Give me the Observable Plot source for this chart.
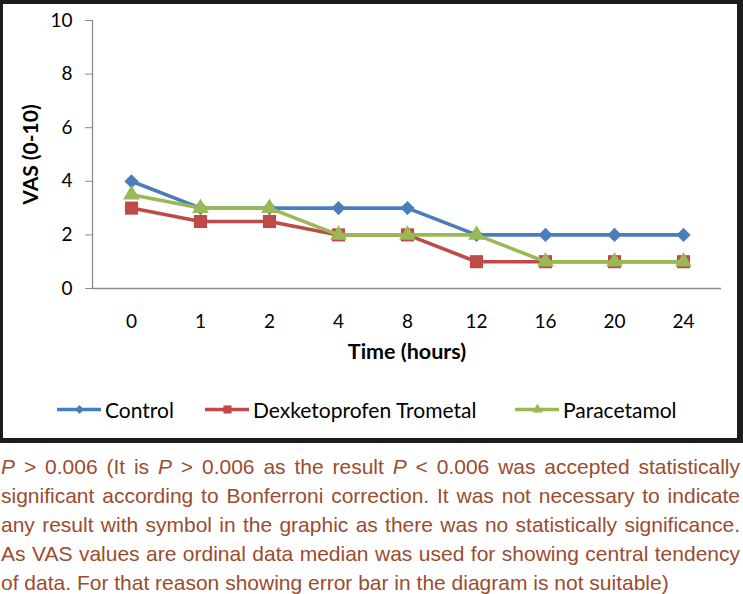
<!DOCTYPE html>
<html>
<head>
<meta charset="utf-8">
<script src="https://cdn.jsdelivr.net/npm/d3@7"></script>
<script src="https://cdn.jsdelivr.net/npm/@observablehq/plot@0.6"></script>
<style>
  body { margin: 0; background: #fff; }
  #wrap { position: relative; width: 743px; height: 594px; overflow: hidden; }
  #box { position: absolute; left: 0; top: 0; width: 743px; height: 443px; box-sizing: border-box;
         border-style: solid; border-color: #1c1c1c; border-width: 4px 6px 5px 3px; }
  #chart { position: absolute; left: 0; top: 0; }
  .leg { position: absolute; top: 396px; height: 26px; display: flex; align-items: center;
         font-family: Lato, "Open Sans", sans-serif; font-size: 21px; color: #000; }
  .leg svg { margin-right: 4px; }
  #caption { position: absolute; left: 1px; top: 452px; width: 739px; color: #9b4c2e;
             font-family: "Liberation Sans", Arial, sans-serif; font-size: 21px; line-height: 29px; }
  #caption div { text-align: justify; text-align-last: justify; white-space: nowrap; }
  #caption div.last { text-align-last: left; }
</style>
</head>
<body>
<div id="wrap">
  <div id="chart"></div>
  <div id="box"></div>
  <div id="legend"></div>
  <div id="caption"></div>
</div>
<script>
const times = ["0", "1", "2", "4", "8", "12", "16", "20", "24"];
const control = [4, 3, 3, 3, 3, 2, 2, 2, 2];
const dexketoprofen = [3, 2.5, 2.5, 2, 2, 1, 1, 1, 1];
const paracetamol = [3.5, 3, 3, 2, 2, 2, 1, 1, 1];
const seriesNames = ["Control", "Dexketoprofen Trometal", "Paracetamol"];
const seriesColors = ["#4a7ebb", "#be4b48", "#98b954"];
const seriesSymbols = ["diamond2", "square", "triangle"];
const seriesR = [6.4, 7.4, 6.2];
const yTicks = [0, 2, 4, 6, 8, 10];
const xLabel = "Time (hours)";
const yLabel = "VAS (0-10)";
const captionLines = [
  "<i>P</i> &gt; 0.006 (It is <i>P</i> &gt; 0.006 as the result <i>P</i> &lt; 0.006 was accepted statistically",
  "significant according to Bonferroni correction. It was not necessary to indicate",
  "any result with symbol in the graphic as there was no statistically significance.",
  "As VAS values are ordinal data median was used for showing central tendency",
  "of data. For that reason showing error bar in the diagram is not suitable)"
];

const seriesValues = [control, dexketoprofen, paracetamol];
const rows = [];
seriesNames.forEach((name, si) => {
  times.forEach((t, i) => rows.push({series: name, time: t, value: seriesValues[si][i]}));
});

const marks = [
  Plot.ruleY([0], {stroke: "#8c8c8c", strokeWidth: 1.3}),
  Plot.frame({anchor: "left", stroke: "#8c8c8c", strokeWidth: 1.3}),
  Plot.axisY({ticks: yTicks, tickSize: 7, tickPadding: 13, label: null, stroke: "#8c8c8c", fill: "#000", fontSize: 19}),
  Plot.axisX({tickSize: 0, tickPadding: 26, label: null, fill: "#000", fontSize: 19}),
  Plot.text([xLabel], {frameAnchor: "bottom", dy: 64, lineAnchor: "middle", textAnchor: "middle",
                       fontWeight: "bold", fontSize: 21.5, fill: "#000"}),
  Plot.text([yLabel], {frameAnchor: "left", dx: -61, rotate: -90, textAnchor: "middle", lineAnchor: "middle",
                       fontWeight: "bold", fontSize: 21, fill: "#000"})
];
seriesNames.forEach((name, si) => {
  const d = rows.filter(r => r.series === name);
  marks.push(Plot.line(d, {x: "time", y: "value", stroke: seriesColors[si], strokeWidth: 3.6}));
  marks.push(Plot.dot(d, {x: "time", y: "value", symbol: seriesSymbols[si], r: seriesR[si],
                          fill: seriesColors[si], stroke: "none"}));
});

const chart = Plot.plot({
  width: 743,
  height: 380,
  marginLeft: 92,
  marginRight: 22,
  marginTop: 20,
  marginBottom: 92,
  style: {fontFamily: "Lato, 'Open Sans', sans-serif", fontSize: "19px", color: "#000", background: "transparent", overflow: "visible"},
  x: {type: "point", domain: times, padding: 0.5},
  y: {domain: [0, 10]},
  marks
});
document.getElementById("chart").appendChild(chart);

// legend
const legendLefts = [57, 205, 515];
const legend = document.getElementById("legend");
seriesNames.forEach((name, si) => {
  const item = document.createElement("div");
  item.className = "leg";
  item.style.left = legendLefts[si] + "px";
  const sw = Plot.plot({
    width: 44, height: 20, margin: 0,
    x: {domain: [0, 1], axis: null}, y: {domain: [0, 1], axis: null},
    style: {background: "transparent", overflow: "visible"},
    marks: [
      Plot.ruleY([0.5], {stroke: seriesColors[si], strokeWidth: 3.6}),
      Plot.dot([0.5], {x: d => d, y: 0.5, symbol: seriesSymbols[si], r: seriesR[si] * 0.62,
                       fill: seriesColors[si], stroke: "none"})
    ]
  });
  item.appendChild(sw);
  const span = document.createElement("span");
  span.textContent = name;
  item.appendChild(span);
  legend.appendChild(item);
});

// caption
const cap = document.getElementById("caption");
captionLines.forEach((line, i) => {
  const div = document.createElement("div");
  div.innerHTML = line;
  if (i === captionLines.length - 1) div.className = "last";
  cap.appendChild(div);
});
</script>
</body>
</html>
